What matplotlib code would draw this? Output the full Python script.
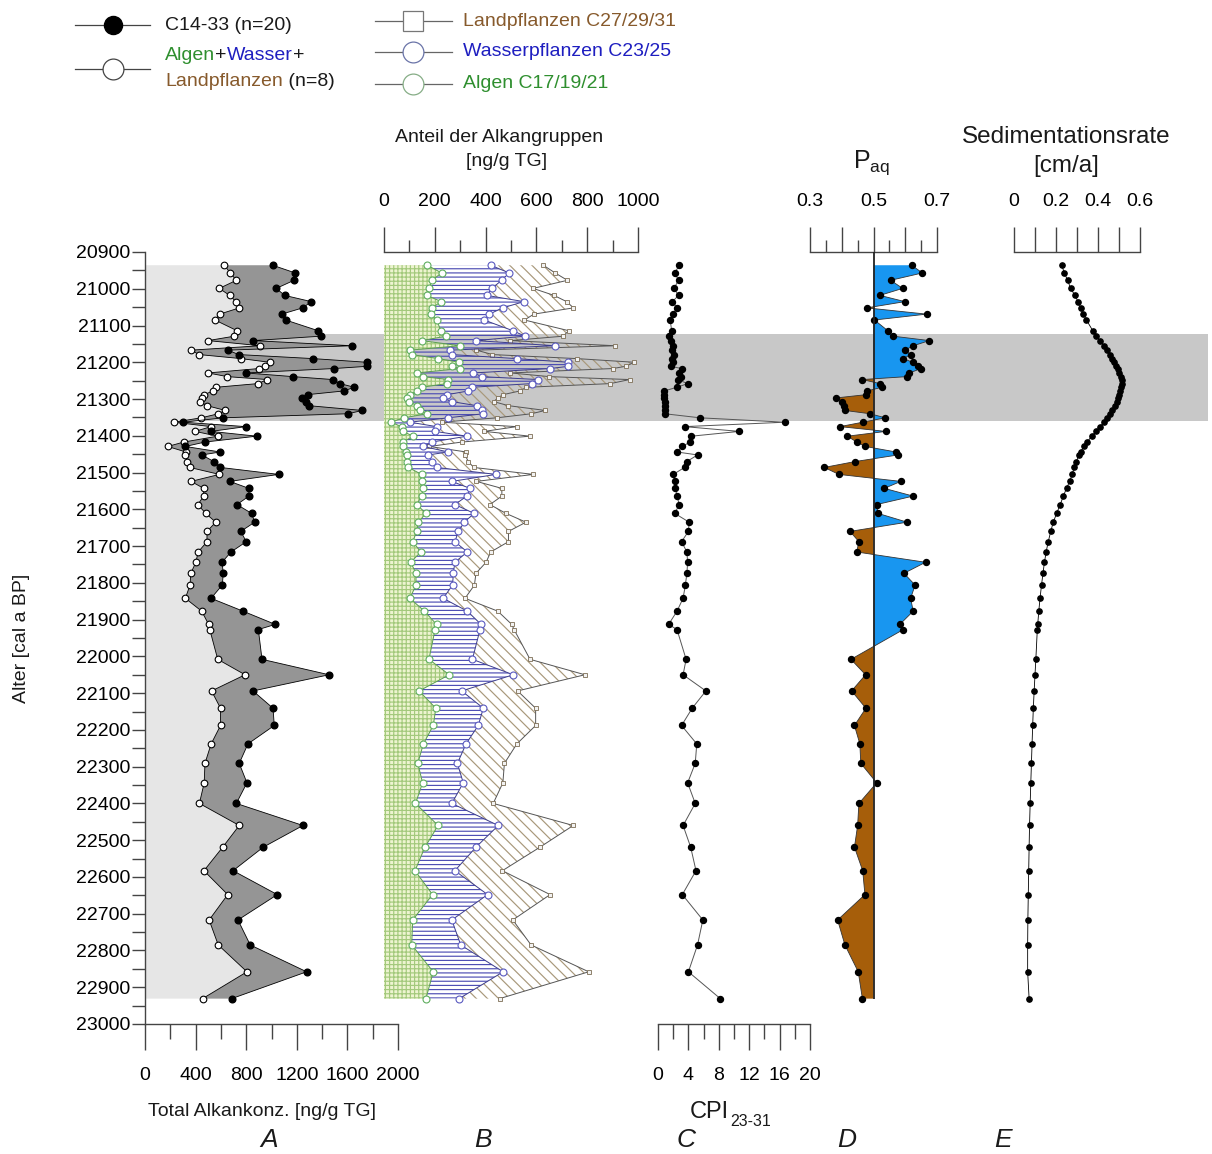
import numpy as np
import matplotlib
matplotlib.use('Agg')
import matplotlib.pyplot as plt
from matplotlib.ticker import MultipleLocator, FuncFormatter

plt.rcParams['font.family'] = ['Liberation Sans', 'DejaVu Sans']
plt.rcParams['mathtext.default'] = 'regular'
plt.rcParams['hatch.linewidth'] = 0.85

# ---------------- data ----------------
age = [20936, 20957, 20977, 20999, 21018, 21035, 21052, 21069, 21085, 21114,
       21129, 21141, 21155, 21167, 21179, 21190, 21200, 21211, 21217, 21229,
       21239, 21247, 21258, 21268, 21278, 21288, 21297, 21307, 21318, 21331,
       21340, 21351, 21363, 21375, 21388, 21401, 21417, 21429, 21444, 21452,
       21470, 21486, 21505, 21524, 21543, 21564, 21587, 21611, 21635, 21660,
       21688, 21716, 21744, 21774, 21806, 21842, 21877, 21913, 21927, 22008,
       22050, 22094, 22141, 22188, 22238, 22291, 22344, 22400, 22460, 22519,
       22583, 22648, 22717, 22785, 22858, 22931]

# Total alkane concentration C14-33 [ng/g TG]
total = [1009, 1188, 1178, 1038, 1104, 1315, 1247, 1081, 1112, 1368,
         1391, 854, 1636, 654, 741, 1330, 1755, 1755, 1494, 798,
         1170, 1486, 1541, 1655, 1571, 1286, 1243, 1273, 1294, 1718,
         1605, 619, 303, 798, 522, 883, 474, 319, 595, 451,
         543, 595, 1057, 670, 822, 822, 727, 843, 867, 757,
         801, 680, 609, 619, 611, 522, 775, 1030, 896, 925,
         1455, 854, 1012, 1022, 814, 745, 806, 722, 1249, 935,
         696, 1046, 735, 832, 1278, 685]

# Algen + Wasser + Landpflanzen (n=8) [ng/g TG]
summe = [627, 674, 722, 587, 669, 719, 746, 590, 553, 727,
         706, 498, 911, 364, 427, 760, 986, 951, 901, 498,
         651, 967, 891, 561, 535, 469, 448, 432, 490, 635,
         580, 445, 227, 522, 395, 575, 306, 179, 324, 319,
         332, 353, 588, 364, 464, 464, 417, 480, 559, 490,
         490, 420, 402, 362, 356, 319, 448, 503, 512, 575,
         791, 526, 597, 597, 523, 474, 468, 430, 745, 614,
         466, 654, 507, 579, 806, 455]

# Algen C17/19/21 (cumulative boundary 1)
algen = [170, 227, 188, 178, 168, 226, 188, 185, 207, 224,
         244, 148, 299, 102, 109, 214, 296, 267, 299, 129,
         155, 253, 247, 148, 129, 102, 89, 100, 129, 142,
         168, 80, 26, 70, 74, 115, 74, 76, 87, 89,
         92, 96, 148, 148, 155, 148, 129, 165, 135, 129,
         113, 145, 105, 126, 126, 102, 159, 207, 201, 177,
         257, 138, 204, 194, 155, 133, 152, 124, 213, 161,
         122, 191, 113, 109, 194, 165]

# Algen + Wasserpflanzen C23/25 (cumulative boundary 2)
algen_wasser = [420, 493, 463, 425, 404, 551, 467, 415, 394, 507,
                555, 362, 673, 260, 267, 522, 726, 726, 654, 352,
                385, 607, 581, 345, 332, 249, 231, 267, 365, 385,
                391, 253, 102, 207, 201, 326, 188, 155, 253, 174,
                188, 207, 441, 267, 339, 326, 279, 355, 316, 293,
                279, 328, 279, 273, 270, 233, 328, 382, 378, 348,
                509, 306, 391, 371, 323, 289, 312, 267, 450, 362,
                279, 408, 267, 302, 469, 296]

# CPI 23-31
cpi = [2.8, 2.2, 2.7, 2.1, 2.7, 1.9, 2.5, 2.0, 1.6, 1.8,
       1.5, 1.7, 2.0, 1.8, 2.1, 1.9, 2.0, 1.7, 3.1, 2.8,
       3.0, 2.6, 3.9, 2.5, 0.8, 0.8, 0.8, 0.9, 0.9, 0.9,
       0.9, 5.5, 16.7, 3.5, 10.7, 4.4, 4.2, 3.2, 2.5, 5.2,
       3.8, 3.5, 2.0, 2.2, 2.3, 2.5, 2.8, 2.2, 4.1, 4.0,
       3.1, 3.8, 3.9, 3.8, 3.6, 3.3, 2.5, 1.4, 2.5, 3.7,
       3.3, 6.3, 4.5, 3.1, 5.1, 4.9, 3.9, 4.9, 3.3, 4.3,
       5.0, 3.2, 5.9, 5.2, 4.0, 8.2]

# P_aq
paq = [0.620, 0.654, 0.554, 0.592, 0.520, 0.599, 0.479, 0.667, 0.503, 0.545,
       0.562, 0.676, 0.625, 0.599, 0.617, 0.594, 0.623, 0.640, 0.650, 0.613,
       0.605, 0.465, 0.520, 0.527, 0.479, 0.477, 0.382, 0.400, 0.407, 0.410,
       0.489, 0.537, 0.466, 0.394, 0.539, 0.418, 0.447, 0.474, 0.571, 0.578,
       0.442, 0.345, 0.391, 0.586, 0.534, 0.625, 0.510, 0.514, 0.606, 0.426,
       0.454, 0.447, 0.664, 0.596, 0.631, 0.617, 0.625, 0.583, 0.594, 0.429,
       0.475, 0.431, 0.476, 0.440, 0.457, 0.460, 0.510, 0.454, 0.450, 0.440,
       0.466, 0.473, 0.387, 0.410, 0.452, 0.465]

# Sedimentationsrate [cm/a]
sed = [0.227, 0.240, 0.255, 0.270, 0.290, 0.305, 0.318, 0.330, 0.345, 0.375,
       0.392, 0.410, 0.430, 0.445, 0.458, 0.468, 0.477, 0.487, 0.493, 0.502,
       0.509, 0.512, 0.512, 0.510, 0.506, 0.500, 0.495, 0.490, 0.480, 0.468,
       0.457, 0.443, 0.428, 0.410, 0.390, 0.370, 0.348, 0.333, 0.318, 0.310,
       0.297, 0.287, 0.277, 0.265, 0.250, 0.235, 0.220, 0.203, 0.187, 0.175,
       0.163, 0.153, 0.145, 0.138, 0.131, 0.124, 0.118, 0.113, 0.111, 0.104,
       0.100, 0.096, 0.092, 0.089, 0.086, 0.083, 0.080, 0.077, 0.074, 0.072,
       0.070, 0.068, 0.066, 0.065, 0.065, 0.072]

band = [21122, 21361]   # highlighted interval
y_range = [23000, 20900]

# ---------------- layout ----------------
W, H = 1212, 1154
fig = plt.figure(figsize=(W / 100, H / 100), dpi=100)
TOP, BOT = 252, 1024


def add_ax(x0, x1):
    ax = fig.add_axes([x0 / W, 1 - BOT / H, (x1 - x0) / W, (BOT - TOP) / H])
    ax.set_ylim(*y_range)
    ax.patch.set_alpha(0)
    for s in ax.spines.values():
        s.set_visible(False)
        s.set_color('#444')
        s.set_linewidth(1.0)
    ax.set_yticks([])
    return ax


age_a = np.array(age)
AXC = '#444'

# background band
bg = add_ax(145, 1208)
bg.set_xticks([])
bg.axhspan(band[0], band[1], color='#c8c8c8', lw=0, zorder=0)

# ---- Panel A ----
axA = add_ax(145, 398)
axA.set_xlim(0, 2000)
axA.fill_betweenx(age_a, 0, summe, facecolor='#e6e6e6', lw=0, zorder=1)
axA.fill_betweenx(age_a, summe, total, facecolor='#959595', lw=0, zorder=1)
axA.plot(summe, age_a, color='k', lw=0.6, marker='o', ms=4.8, mfc='white',
         mec='k', mew=0.8, zorder=3)
axA.plot(total, age_a, color='k', lw=0.6, marker='o', ms=4.8, mfc='k',
         mec='k', zorder=3)
axA.spines['left'].set_visible(True)
axA.spines['bottom'].set_visible(True)
axA.xaxis.set_major_locator(MultipleLocator(400))
axA.xaxis.set_minor_locator(MultipleLocator(200))
axA.tick_params(axis='x', which='major', direction='out', length=19, width=1,
                color=AXC, labelsize=14, pad=12)
axA.tick_params(axis='x', which='minor', direction='out', length=11, width=1,
                color=AXC)
axA.yaxis.set_major_locator(MultipleLocator(100))
axA.yaxis.set_minor_locator(MultipleLocator(50))
axA.yaxis.set_major_formatter(FuncFormatter(lambda v, p: f'{v:.0f}'))
axA.tick_params(axis='y', which='both', direction='out', length=9.5, width=1,
                color=AXC, labelsize=14, pad=1)

# ---- Panel B ----
axB = add_ax(384, 638)
axB.set_xlim(0, 1000)
axB.fill_betweenx(age_a, 0, algen, facecolor='#edf4d0', edgecolor='#a3c97c',
                  hatch='++++', lw=0, zorder=1)
axB.fill_betweenx(age_a, algen, algen_wasser, facecolor='none',
                  edgecolor='#4e4eb4', hatch='----', lw=0, zorder=1)
axB.fill_betweenx(age_a, algen_wasser, summe, facecolor='none',
                  edgecolor='#a8987a', hatch='\\' * 3, lw=0, zorder=1)
axB.plot(summe, age_a, color='#555', lw=0.7, marker='s', ms=2.6,
         mfc='#f2f2f2', mec='#7d6e55', mew=0.6, zorder=3)
axB.plot(algen_wasser, age_a, color='#3c3c8c', lw=0.7, marker='o', ms=5,
         mfc='white', mec='#5a5ac0', mew=0.8, zorder=3)
axB.plot(algen, age_a, color='#5b9e50', lw=0.7, marker='o', ms=5,
         mfc='white', mec='#5fae5f', mew=0.8, zorder=3)
axB.spines['top'].set_visible(True)
axB.xaxis.tick_top()
axB.xaxis.set_major_locator(MultipleLocator(200))
axB.xaxis.set_minor_locator(MultipleLocator(100))
axB.tick_params(axis='x', which='major', direction='out', length=18, width=1,
                color=AXC, labelsize=14, pad=12)
axB.tick_params(axis='x', which='minor', direction='out', length=9, width=1,
                color=AXC)

# ---- Panel C ----
axC = add_ax(658, 810)
axC.set_xlim(0, 20)
axC.plot(cpi, age_a, color='#555', lw=0.7, marker='o', ms=4.3, mfc='k',
         mec='k', zorder=3)
axC.spines['bottom'].set_visible(True)
axC.xaxis.set_major_locator(MultipleLocator(4))
axC.xaxis.set_minor_locator(MultipleLocator(2))
axC.tick_params(axis='x', which='major', direction='out', length=19, width=1,
                color=AXC, labelsize=14, pad=12)
axC.tick_params(axis='x', which='minor', direction='out', length=11, width=1,
                color=AXC)

# ---- Panel D ----
axD = add_ax(810, 937)
axD.set_xlim(0.3, 0.7)
paq_a = np.array(paq)
axD.fill_betweenx(age_a, 0.5, paq_a, where=paq_a >= 0.5, interpolate=True,
                  facecolor='#1896f0', lw=0, zorder=1)
axD.fill_betweenx(age_a, 0.5, paq_a, where=paq_a < 0.5, interpolate=True,
                  facecolor='#a65e0a', lw=0, zorder=1)
axD.plot(paq_a, age_a, color='#333', lw=0.6, marker='o', ms=4.3, mfc='k',
         mec='k', zorder=3)
axD.vlines(0.5, y_range[1], age_a[-1], color='#222', lw=1.3, zorder=4)
axD.spines['top'].set_visible(True)
axD.xaxis.tick_top()
axD.xaxis.set_major_locator(MultipleLocator(0.1))
axD.xaxis.set_minor_locator(MultipleLocator(0.05))
axD.xaxis.set_major_formatter(FuncFormatter(
    lambda v, p: f'{v:.1f}' if round(v * 10) in (3, 5, 7) else ''))
axD.tick_params(axis='x', which='major', direction='out', length=18, width=1,
                color=AXC, labelsize=14, pad=12)
axD.tick_params(axis='x', which='minor', direction='out', length=9, width=1,
                color=AXC)

# ---- Panel E ----
axE = add_ax(1014, 1140)
axE.set_xlim(0, 0.6)
axE.plot(sed, age_a, color='k', lw=0.6, marker='o', ms=3.8, mfc='k',
         mec='k', zorder=3)
axE.spines['top'].set_visible(True)
axE.xaxis.tick_top()
axE.xaxis.set_major_locator(MultipleLocator(0.1))
axE.xaxis.set_major_formatter(FuncFormatter(
    lambda v, p: ('0' if abs(v) < 1e-9 else f'{v:.1f}') if round(v * 10) % 2 == 0 else ''))
axE.tick_params(axis='x', which='major', direction='out', length=18, width=1,
                color=AXC, labelsize=14, pad=12)

# ---------------- overlay: titles, letters, legend ----------------
ov = fig.add_axes([0, 0, 1, 1])
ov.set_xlim(0, W)
ov.set_ylim(H, 0)
ov.axis('off')
ov.patch.set_alpha(0)

TXT = '#1a1a1a'
renderer = fig.canvas.get_renderer()

ov.text(499, 137, 'Anteil der Alkangruppen', ha='center', va='center', fontsize=14, color=TXT)
ov.text(507, 162, '[ng/g TG]', ha='center', va='center', fontsize=14, color=TXT)
ov.text(872, 163, 'P$_{aq}$', ha='center', va='center', fontsize=18, color=TXT)
ov.text(1066, 137, 'Sedimentationsrate', ha='center', va='center', fontsize=17.5, color=TXT)
ov.text(1066, 166, '[cm/a]', ha='center', va='center', fontsize=17.5, color=TXT)
ov.text(262, 1111, 'Total Alkankonz. [ng/g TG]', ha='center', va='center', fontsize=14, color=TXT)
tc = ov.text(690, 1112, 'CPI', ha='left', va='center', fontsize=17, color=TXT)
xe = tc.get_window_extent(renderer).x1
ov.text(xe + 1, 1122, '23-31', ha='left', va='center', fontsize=11.5, color=TXT)
ov.text(22, 638, 'Alter [cal a BP]', ha='center', va='center', rotation=90, fontsize=14, color=TXT)
for letter, xl in zip(['A', 'B', 'C', 'D', 'E'], [269, 483, 686, 847, 1003]):
    ov.text(xl, 1140, letter, ha='center', va='center', fontsize=19,
            style='italic', color=TXT)

GREEN = '#2f8f2f'
BLUE = '#1e1ec0'
BROWN = '#875a2c'


def text_run(x, y, pieces, fs=14):
    for s, c in pieces:
        t = ov.text(x, y, s, ha='left', va='center', fontsize=fs, color=c)
        bb = t.get_window_extent(renderer)
        x = bb.x1


# legend column 1
ov.plot([75, 150], [25, 25], color='#444', lw=0.9)
ov.plot([113], [25], marker='o', ms=13, mfc='k', mec='k')
text_run(165, 25, [('C14-33 (n=20)', TXT)])
ov.plot([75, 150], [69, 69], color='#444', lw=0.9)
ov.plot([113], [69], marker='o', ms=15, mfc='white', mec='#444', mew=0.9)
text_run(165, 55, [('Algen', GREEN), ('+', TXT), ('Wasser', BLUE), ('+', TXT)])
text_run(165, 81, [('Landpflanzen', BROWN), (' (n=8)', TXT)])

# legend column 2
for yy, mk, mec, label, col in [(21, 's', '#777', 'Landpflanzen C27/29/31', BROWN),
                                (52, 'o', '#6a74a8', 'Wasserpflanzen C23/25', BLUE),
                                (84, 'o', '#86ad86', 'Algen C17/19/21', GREEN)]:
    ov.plot([375, 452], [yy, yy], color='#666', lw=0.9)
    ov.plot([413], [yy], marker=mk, ms=15, mfc='white', mec=mec, mew=0.9)
    text_run(463, yy, [(label, col)])

fig.savefig('out.png', dpi=100)
